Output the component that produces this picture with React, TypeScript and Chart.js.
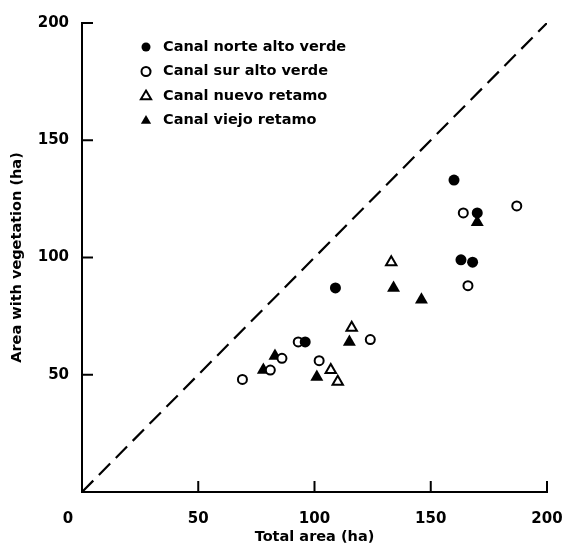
import React, { useEffect, useRef } from "react";
import { Chart, registerables } from "chart.js";
Chart.register(...registerables);

const seriesLabels = [
  "Canal norte alto verde",
  "Canal sur alto verde",
  "Canal nuevo retamo",
  "Canal viejo retamo",
];
const norteAltoVerde = [
  { x: 160, y: 133 }, { x: 170, y: 119 }, { x: 163, y: 99 }, { x: 168, y: 98 },
  { x: 109, y: 87 }, { x: 96, y: 64 },
];
const surAltoVerde = [
  { x: 164, y: 119 }, { x: 187, y: 122 }, { x: 166, y: 88 }, { x: 124, y: 65 },
  { x: 93, y: 64 }, { x: 86, y: 57 }, { x: 81, y: 52 }, { x: 69, y: 48 }, { x: 102, y: 56 },
];
const nuevoRetamo = [
  { x: 133, y: 98 }, { x: 116, y: 70 }, { x: 107, y: 52 }, { x: 110, y: 47 },
];
const viejoRetamo = [
  { x: 170, y: 115 }, { x: 134, y: 87 }, { x: 146, y: 82 }, { x: 115, y: 64 },
  { x: 83, y: 58 }, { x: 78, y: 52 }, { x: 101, y: 49 },
];
const equalityLine = [{ x: 0, y: 0 }, { x: 200, y: 200 }];
const tickValues = [0, 50, 100, 150, 200];
const xTitle = "Total area (ha)";
const yTitle = "Area with vegetation (ha)";

const FONT = "'DejaVu Sans', sans-serif";

type Style = { shape: "circle" | "triangle"; filled: boolean };
const styles: Style[] = [
  { shape: "circle", filled: true },
  { shape: "circle", filled: false },
  { shape: "triangle", filled: false },
  { shape: "triangle", filled: true },
];

function drawMarker(ctx: CanvasRenderingContext2D, x: number, y: number, s: Style, r: number) {
  ctx.save();
  ctx.beginPath();
  if (s.shape === "circle") {
    ctx.arc(x, y, r, 0, Math.PI * 2);
  } else {
    const rr = r * 1.2;
    ctx.moveTo(x, y - rr);
    ctx.lineTo(x + rr * 0.95, y + rr * 0.6);
    ctx.lineTo(x - rr * 0.95, y + rr * 0.6);
    ctx.closePath();
  }
  if (s.filled) {
    ctx.fillStyle = "#000";
    ctx.fill();
  } else {
    ctx.fillStyle = "#fff";
    ctx.fill();
    ctx.lineWidth = 2;
    ctx.strokeStyle = "#000";
    ctx.stroke();
  }
  ctx.restore();
}

const decorPlugin = {
  id: "decor",
  afterDraw(chart: any) {
    const { ctx, chartArea, scales } = chart;
    const xs = scales.x;
    const ys = scales.y;
    ctx.save();
    ctx.strokeStyle = "#000";
    ctx.lineWidth = 2;
    ctx.lineCap = "square";
    ctx.beginPath();
    ctx.moveTo(chartArea.left, chartArea.top);
    ctx.lineTo(chartArea.left, chartArea.bottom);
    ctx.lineTo(chartArea.right, chartArea.bottom);
    ctx.stroke();
    tickValues.forEach((v) => {
      if (v === 0) return;
      const px = xs.getPixelForValue(v);
      ctx.beginPath();
      ctx.moveTo(px, chartArea.bottom);
      ctx.lineTo(px, chartArea.bottom - 10);
      ctx.stroke();
      const py = ys.getPixelForValue(v);
      ctx.beginPath();
      ctx.moveTo(chartArea.left, py);
      ctx.lineTo(chartArea.left + 10, py);
      ctx.stroke();
    });
    ctx.fillStyle = "#000";
    ctx.font = `bold 15px ${FONT}`;
    ctx.textAlign = "center";
    ctx.textBaseline = "middle";
    ctx.fillText("0", chartArea.left - 14, chartArea.bottom + 27);
    ctx.font = `bold 14.5px ${FONT}`;
    ctx.textAlign = "left";
    seriesLabels.forEach((label, i) => {
      const lx = chartArea.left + 64;
      const ly = chartArea.top + 24 + i * 24.5;
      drawMarker(ctx, lx, ly, styles[i], 4.5);
      ctx.fillStyle = "#000";
      ctx.fillText(label, lx + 17, ly);
    });
    ctx.restore();
  },
};

export default function App() {
  const ref = useRef<HTMLCanvasElement>(null);
  useEffect(() => {
    if (!ref.current) return;
    const mk = (label: string, data: any[], s: Style) => ({
      type: "scatter" as const,
      label,
      data,
      pointStyle: s.shape,
      pointRadius: s.shape === "circle" ? (s.filled ? 5.5 : 4.5) : s.filled ? 7.5 : 6,
      pointBackgroundColor: s.filled ? "#000" : "#fff",
      pointBorderColor: "#000",
      pointBorderWidth: s.filled ? 0 : 2,
      showLine: false,
    });
    const tickFont = { family: FONT, size: 15, weight: "bold" as const };
    const titleFont = { family: FONT, size: 14.5, weight: "bold" as const };
    const chart = new Chart(ref.current, {
      type: "scatter",
      data: {
        datasets: [
          {
            type: "line",
            label: "1:1",
            data: equalityLine,
            borderColor: "#000",
            borderWidth: 2.2,
            borderDash: [16, 8],
            pointRadius: 0,
            fill: false,
            order: 10,
          } as any,
          mk(seriesLabels[0], norteAltoVerde, styles[0]),
          mk(seriesLabels[1], surAltoVerde, styles[1]),
          mk(seriesLabels[2], nuevoRetamo, styles[2]),
          mk(seriesLabels[3], viejoRetamo, styles[3]),
        ],
      },
      options: {
        animation: false,
        responsive: false,
        layout: { padding: { top: 23, right: 21, bottom: 0, left: 0 } },
        plugins: { legend: { display: false }, tooltip: { enabled: false } },
        scales: {
          x: {
            type: "linear",
            min: 0,
            max: 200,
            afterBuildTicks: (s: any) => { s.ticks = tickValues.map((v) => ({ value: v })); },
            afterFit: (s: any) => {
              s.height = 56;
              s.paddingLeft = 0;
              s.paddingRight = 0;
            },
            grid: { display: false },
            border: { display: false },
            ticks: {
              color: "#000",
              font: tickFont,
              padding: 10,
              maxRotation: 0,
              callback: (v: any) => (v === 0 ? "" : String(v)),
            },
            title: {
              display: true,
              text: xTitle,
              color: "#000",
              font: titleFont,
              padding: { top: 0, bottom: 2 },
            },
          },
          y: {
            type: "linear",
            min: 0,
            max: 200,
            afterBuildTicks: (s: any) => { s.ticks = tickValues.map((v) => ({ value: v })); },
            afterFit: (s: any) => {
              s.width = 82;
              s.paddingTop = 0;
              s.paddingBottom = 0;
            },
            grid: { display: false },
            border: { display: false },
            ticks: {
              color: "#000",
              font: tickFont,
              padding: 5,
              callback: (v: any) => (v === 0 ? "" : String(v)),
            },
            title: {
              display: true,
              text: yTitle,
              color: "#000",
              font: titleFont,
              padding: { top: 9, bottom: 0 },
            },
          },
        },
      },
      plugins: [decorPlugin],
    });
    return () => chart.destroy();
  }, []);
  return (
    <div style={{ position: "fixed", left: 0, top: 0, width: 568, height: 548, background: "#fff" }}>
      <canvas ref={ref} width={568} height={548} style={{ display: "block" }} />
    </div>
  );
}
